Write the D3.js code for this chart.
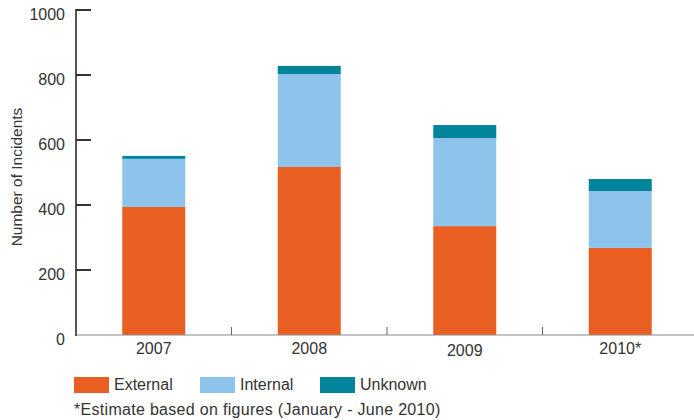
<!DOCTYPE html>
<html><head><meta charset="utf-8">
<script src="https://cdn.jsdelivr.net/npm/d3@7"></script>
<style>
body{margin:0;background:#fff;}
text{font-family:"Liberation Sans",Arial,sans-serif;fill:#333;}
</style></head>
<body><svg id="c" width="694" height="420"></svg>
<script>
const categories = ["2007", "2008", "2009", "2010*"];
const external = [394, 517, 335, 268];
const internal = [148, 286, 271, 175];
const unknown  = [9, 25, 40, 37];
const seriesNames = ["External", "Internal", "Unknown"];
const colors = ["#E95E21", "#8EC4EB", "#00849B"];
const yTicks = [0, 200, 400, 600, 800, 1000];
const yLabel = "Number of Incidents";
const footnote = "*Estimate based on figures (January - June 2010)";

const svg = d3.select("#c");
const x = d3.scaleBand().domain(categories).range([76, 698]).padding(0);
const y = d3.scaleLinear().domain([0, 1000]).range([335, 10]);
const barW = x.bandwidth() * 0.405;

const data = categories.map((c, i) => ({cat: c, External: external[i], Internal: internal[i], Unknown: unknown[i]}));
const stack = d3.stack().keys(seriesNames)(data);

svg.append("g").selectAll("g").data(stack).join("g")
  .attr("fill", (d, i) => colors[i])
  .selectAll("rect").data(d => d).join("rect")
  .attr("x", d => x(d.data.cat) + (x.bandwidth() - barW) / 2)
  .attr("width", barW)
  .attr("y", d => y(d[1]))
  .attr("height", d => y(d[0]) - y(d[1]));

// x axis
const gx = svg.append("g");
gx.append("line").attr("x1", 76).attr("x2", 694).attr("y1", y(0)).attr("y2", y(0))
  .attr("stroke", "#8a8a8a").attr("stroke-width", 1.2);
gx.selectAll("line.t").data(categories.slice(1)).join("line").attr("class", "t")
  .attr("x1", d => x(d)).attr("x2", d => x(d)).attr("y1", y(0)).attr("y2", y(0) - 8)
  .attr("stroke", "#666").attr("stroke-width", 1);
gx.selectAll("text").data(categories).join("text")
  .attr("x", d => x(d) + x.bandwidth() / 2).attr("y", d => d === "2009" ? 356 : 354)
  .attr("text-anchor", "middle").attr("font-size", 16).text(d => d);

// y axis
const gy = svg.append("g");
gy.append("line").attr("x1", 76).attr("x2", 76).attr("y1", y(1000) - 1).attr("y2", y(0) + 1)
  .attr("stroke", "#555").attr("stroke-width", 2);
gy.selectAll("line.t").data(yTicks.slice(1)).join("line").attr("class", "t")
  .attr("x1", 76).attr("x2", 91).attr("y1", d => y(d)).attr("y2", d => y(d))
  .attr("stroke", "#333").attr("stroke-width", 2);
gy.selectAll("text").data(yTicks).join("text")
  .attr("x", 65).attr("y", d => y(d) + 10)
  .attr("text-anchor", "end").attr("font-size", 16).text(d => d);
svg.append("text").attr("transform", "translate(22,177) rotate(-90)")
  .attr("text-anchor", "middle").attr("font-size", 15.5).text(yLabel);

// legend
const legX = [74, 200, 320];
const lg = svg.append("g");
seriesNames.forEach((n, i) => {
  lg.append("rect").attr("x", legX[i]).attr("y", 377).attr("width", 35).attr("height", 16).attr("fill", colors[i]);
  lg.append("text").attr("x", legX[i] + 40).attr("y", 390).attr("font-size", 16).text(n);
});
svg.append("text").attr("x", 74).attr("y", 415).attr("font-size", 16)
  .attr("letter-spacing", 0.3).text(footnote);
</script></body></html>
